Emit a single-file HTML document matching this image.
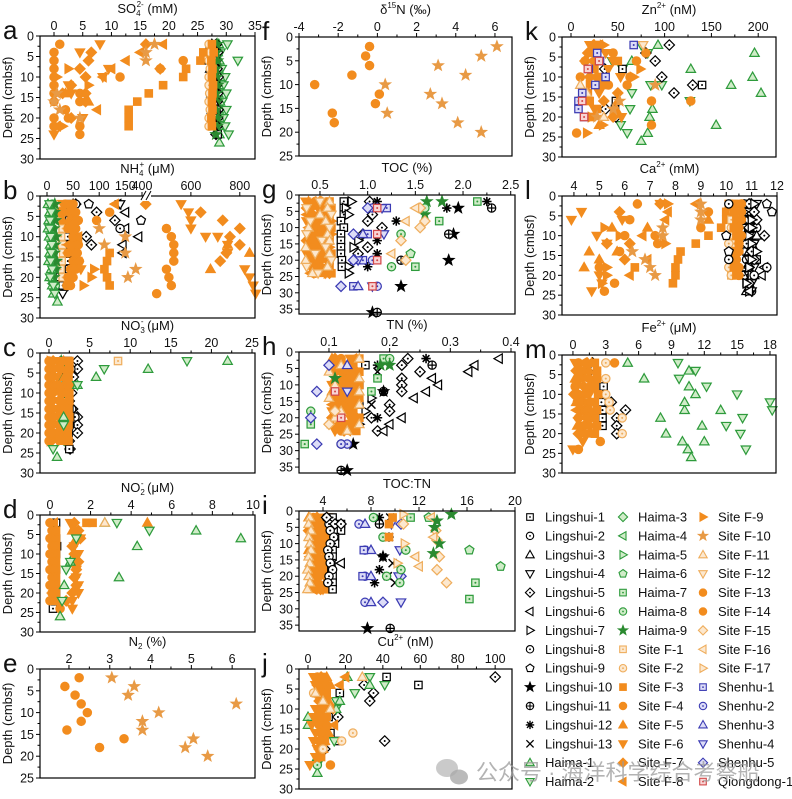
<!DOCTYPE html>
<html><head><meta charset="utf-8">
<style>
html,body{margin:0;padding:0;background:#fff;}
svg{display:block;font-family:"Liberation Sans","Noto Sans CJK SC",sans-serif;}
</style></head>
<body>
<svg id="fig" width="792" height="799" viewBox="0 0 792 799" xmlns="http://www.w3.org/2000/svg"></svg>
<script>
// ===================== DATA =====================
// number at index i => depth 2*(i+1); [value, depth] pair => explicit
// Panel a: SO4 (mM)
const a_F4=[1,0,0,0,0,0,0,0,2,2.5,4.5,4.5,[22.5,6],[18.5,8],[11.5,10],[4.5,14],[4.5,16],[0,20],[0,22]];
const a_F6=[8,4.5,null,9.5,8.5,2.5,3,null,null,5,null,0];
const a_F7=[16,6.5,6,4.5,5.5,3,5.5,5.5,null,3,[18.5,8],[1.5,14]];
const a_F8=[[19,2],[15,4],[12.5,6],[10,8],[7.5,18],[8.5,10],[0.5,22]];
const a_F3=[[26,4],[25.5,6],[23,8],[22.5,10],[19,12],[16.5,14],[14.5,16],[13,18],[13,20],[13,22]];
const a_F10=[[17.5,2],[16,4],[16,6],[4.5,20],[0,16],[0.5,14],[1,18]];
const a_F9=[[2.5,8],[0.5,10],[1.5,22],[6,12]];
const a_F5=[[2,14],[6,16]];
const a_L1=[28,28,28.2,28,28,28.2,28,28,28.3,28,28,28.5];
const a_L3=[27.5,26.5,27,27.2,27.6,27.5,27.4,27.8,27.5,27.5,27.6];
const a_L5=[28.3,28.5,28.2,28.4,28.6,28.3,28.5,28.4,28.6,28.5,28.4,28.2];
const a_F2=[27,27.2,27,27.2,27,27,27.1,27,27.2,27,27];
const a_F3b=[27.5,27.8,27.4,27.6,27.5,27.7,27.6,27.5,27.6,27.4,27.5];
const a_H1=[28.7,28.5,28.8,28.6,28.9,28.7,28.6,28.9,28.7,28.8,28.6,28.8,28.8];
const a_H2=[30.2,29,32,29.2,29.8,29.5,30,29.3,30,29.5,29.8,30.4];
const a_H9=[28.4,28.3,28.5,28.2,28.4,28.5,28.3,28.4,28.3,28.5,28.4,28.2];
// Panel b: NH4 (uM)
const b_H1=[2,5,3,2,4,6,5,3,8,5,10,12,20];
const b_H2=[5,8,6,5,7,9,8,7,10,6,12,15];
const b_H8=[10,12,9,11,13,10,12,14,15,11,16];
const b_H9=[15,14,16,13,17,15,14,18,16,13,12];
const b_F1=[25,28,26,30,27,29,31,28,26,30];
const b_L1=[40,38,42,36,40,44,38,40,42,35,30];
const b_L2=[55,48,52,50,56,48,52,55,50,46];
const b_L5=[[95,4],[130,6],[75,10],[85,12],[60,16],[55,2],[45,12]];
const b_L6=[[150,8],[175,10],[145,12],[145,14],[150,4],[135,2]];
const b_L4=[[140,2],[55,10],[50,6],[40,22],[30,24]];
const b_L9=[[180,6],[80,2]];
const b_L8=[[140,8],[40,4]];
const b_L3=[[50,2],[20,20],[15,22]];
const b_L7=[[30,10],[35,16],[45,20]];
const b_F4=[35,30,45,40,50,45,40,50,45,40,38,[95,6],[500,8],[520,10],[530,12],[530,14],[530,16],[500,18],[510,20],[520,22],[460,24],[120,4]];
const b_F3=[40,45,50,45,55,50,55,60,50,45,40,[120,14],[115,16],[110,18],[115,20],[120,22]];
const b_F13=[50,55,60,55,50,60,58,62,55,50,45];
const b_F6=[[560,2],[590,4],[600,6],[600,8],[660,10],[710,10],[750,12],[750,14],[820,18],[840,20],[855,22],[865,24],[30,2],[45,8],[65,18]];
const b_F7=[[415,2],[640,4],[730,6],[800,8],[760,10],[800,12],[745,14],[720,16],[25,4],[60,16],[55,6]];
const b_F5=[[840,14],[680,18],[750,12],[30,6]];
const b_F8=[[130,2],[60,10],[40,12]];
const b_F10=[[150,10],[150,14],[170,18],[155,20],[100,8],[110,12]];
const b_F9=[[90,18],[70,22],[85,20]];
// Panel c: NO3 (uM)
const c_L5=[3.5,3.5,3,2.5,2.8,2.5,2.9,3.5,3.5,3.5,2.5,2.6];
const c_L2=[1.5,2.7,2.2,2.4,2.4,2.5,2.8,3.2,2.6,2.2,2.4,2.5];
const c_L1=[2.3,2.5,2.1,2.2,2.3,2.2,2.5,2.6,2.5,2.4,2.3,2.5];
const c_H9=[1.5,1.6,1.5,1.7,1.6,1.5,1.6,1.5,1.6,1.6,1.5];
const c_F4=[0,0,0,0,0,0,0,0,0,0,0];
const c_F3=[2.5,2.5,2.4,2.5,2.5,2.5,2.4,2.5,2.4,2.3,2.4];
const c_F6=[1,1.2,1,0.8,1.3,1.1,1,1.2,1,0.9,1.1];
const c_F7=[0.5,0.6,0.4,0.6,0.5,0.4,0.5,0.6,0.4,0.5,0.3];
const c_F5=[1.8,1.7,1.9,1.8,2,1.7,1.8,1.9,1.7,1.6,1.8];
const c_F9=[0.2,1.5,0.3,1.4,0.2,1.5,0.3,1.4,0.2,1.3,0.2];
const c_H1=[[22,2],[12.2,4],[5.8,6],[3.5,8],[1,26],[1.8,16]];
const c_H2=[[17,2],[6.8,4],[0.5,24],[1.8,18],[3.5,8]];
const c_F1=[[8.5,2]];
// Panel d: NO2 (uM)
const d_L1=[0.3,0.25,0.3,0.35,0.3,0.25,0.3,0.2,0.25,0.3,0.2,0.15];
const d_F4=[0,0.1,0,0.1,0,0.1,0,0.1,0,0.1,0,0.5];
const d_F3=[1.8,0.3,0.3,0.3,0.3,0.3,0.3,0.3,0.3,0.3,0.3,[2.1,2]];
const d_F6=[1,1.3,1.5,1.2,1.4,1.2,1.3,1.3,1.4,1.4,1.1,1.1];
const d_F7=[1.2,1.4,1.5,1.1,1.2,1.4,1.3,1.2,1.3,1.1,0.8];
const d_F5=[[4.8,2],[1.1,4],[1.3,6]];
const d_F8=[0.2,0.2,0.3,0.2,0.3,0.2,0.1,0.2,0.2,0.1,0.2];
const d_H1=[[2.7,2],[7.2,4],[9.4,6],[4.3,8],[3.4,16],[0.7,18],[0.5,26],[1,12]];
const d_H2=[[3.3,2],[4.9,4],[1,12],[0.6,22],[0.8,14],[1.3,6]];
const d_F11=[[2.7,2]];
// Panel e: N2 (%)
const e_F4=[[2.25,2],[1.9,4],[2.15,6],[2.3,8],[2.45,10],[2.3,12],[1.95,14],[3.35,16],[2.75,18]];
const e_F10=[[3.05,2],[3.6,4],[3.45,6],[6.1,8],[4.2,10],[3.8,12],[3.8,14],[5.05,16],[4.85,18],[5.4,20]];
// Panel f: d15N
const f_F4=[[-0.4,2],[-0.6,4],[-0.4,6],[-1.3,8],[-3.2,10],[0.1,12],[-0.1,14],[-2.3,16],[-2.2,18]];
const f_F10=[[6.1,2],[5.3,4],[3.1,6],[4.5,8],[0.4,10],[2.7,12],[3.3,14],[0.5,16],[4.1,18],[5.3,20]];
// Panel g: TOC (%)
const g_F3=[0.6,0.62,0.6,0.58,0.62,0.6,0.6,0.58,0.62,0.6,0.6,0.62];
const g_F4=[0.45,0.5,0.4,0.48,0.5,0.45,0.42,0.5,0.48,0.44,0.5,0.45];
const g_F5=[0.38,0.55,0.48,0.52,0.4,0.55,0.5,0.38,0.55,0.4,0.52,0.5];
const g_F6=[0.35,0.42,0.55,0.36,0.45,0.38,0.56,0.45,0.36,0.52,0.4,0.56];
const g_F7=[0.5,0.36,0.52,0.42,0.56,0.5,0.36,0.54,0.42,0.58,0.46,0.6];
const g_F8=[0.42,0.48,0.36,0.55,0.38,0.42,0.48,0.4,0.5,0.38,0.56,0.4];
const g_F9=[0.55,0.4,0.45,0.62,0.52,0.62,0.45,0.6,0.4,0.48,0.44,0.58];
const g_F11=[0.6,0.58,0.5,0.56,0.38,0.58,0.6,0.35,0.6,0.35,0.58,0.42];
const g_F12=[0.5,0.36,0.62,0.4,0.6,0.36,0.52,0.56,0.45,0.62,0.36,0.48];
const g_L1=[[0.75,2],[0.75,4],[0.75,6],[0.72,8],[0.75,10],[0.72,12],[0.72,14],[0.72,16],[0.72,18],[0.73,20],[0.73,22]];
const g_L7=[[0.83,2],[0.77,4],[0.8,6],[0.8,22],[0.8,24],[0.9,14],[0.85,16]];
const g_L5=[[1.02,2],[1.0,8],[0.95,12],[1.0,16],[1.15,10],[1.05,6],[0.9,18]];
const g_L10=[[1.95,4],[1.9,12],[1.85,20],[1.35,28],[1.05,36]];
const g_L11=[[2.3,4],[1.85,12],[1.35,20],[1.1,36]];
const g_L12=[[2.25,2],[1.83,4],[1.3,8],[1.1,14],[1.1,18],[1.0,22],[1.1,2]];
const g_H7=[[2.15,2],[1.75,8],[1.5,22]];
const g_H9=[[1.78,2],[1.6,6],[1.62,2]];
const g_H8=[[1.25,22],[1.35,12],[1.6,4]];
const g_H6=[[1.45,18]];
const g_F15=[[1.55,4],[1.55,10],[1.4,20],[1.35,14],[1.6,8]];
const g_F16=[[1.5,4],[1.4,8],[1.25,18]];
const g_S1=[[0.85,28],[0.95,20],[1.0,12],[1.2,4]];
const g_S2=[[1.05,20],[1.1,28],[1.05,4]];
const g_S3=[[0.9,28],[0.87,20],[0.95,12],[1.1,4]];
const g_S4=[[1.17,12],[1.15,4],[0.9,20],[1.05,28]];
const g_S5=[[0.72,28],[0.85,20],[0.85,12],[1.0,4]];
const g_Q1=[[1.1,4],[1.1,12],[1.1,20],[1.05,28]];
// Panel h: TN (%)
const h_F3=[0.15,0.14,0.15,0.145,0.15,0.14,0.15,0.145,0.14,0.15,0.14,0.145];
const h_F4=[0.12,0.13,0.11,0.125,0.13,0.12,0.11,0.13,0.125,0.12,0.13,0.12];
const h_F5=[0.105,0.14,0.13,0.11,0.14,0.105,0.135,0.11,0.14,0.12,0.105,0.135];
const h_F6=[0.135,0.11,0.14,0.135,0.105,0.13,0.14,0.12,0.105,0.135,0.12,0.11];
const h_F7=[0.11,0.125,0.12,0.14,0.115,0.145,0.12,0.14,0.13,0.105,0.145,0.125];
const h_F8=[0.14,0.105,0.125,0.12,0.12,0.11,0.125,0.105,0.115,0.14,0.115,0.13];
const h_F11=[0.15,0.12,0.1,0.15,0.11,0.15,0.1,0.15,0.12,0.11,0.15,0.13];
const h_L5=[[0.23,2],[0.22,4],[0.25,6],[0.22,8],[0.22,10],[0.22,12],[0.2,16],[0.2,18],[0.17,20],[0.18,24]];
const h_L6=[[0.38,2],[0.34,4],[0.33,6],[0.27,8],[0.28,10],[0.26,12],[0.24,14],[0.22,20],[0.2,22],[0.19,24]];
const h_L7=[[0.17,14],[0.16,18],[0.15,22],[0.15,20]];
const h_L11=[[0.27,4],[0.19,12],[0.12,28],[0.12,36]];
const h_L10=[[0.19,12],[0.14,28],[0.13,36]];
const h_L12=[[0.26,2],[0.18,4],[0.18,20]];
const h_L13=[[0.18,6],[0.17,16]];
const h_L1=[[0.15,16],[0.16,4],[0.15,10]];
const h_H7=[[0.19,2],[0.18,8],[0.17,12],[0.06,28],[0.07,22]];
const h_H8=[[0.2,2],[0.07,18]];
const h_H9=[[0.2,4],[0.185,4],[0.11,8]];
const h_S5=[[0.1,4],[0.08,12],[0.07,20],[0.08,28]];
const h_S2=[[0.13,28],[0.12,28]];
const h_S4=[[0.13,12]];
const h_S3=[[0.13,4]];
const h_Q1=[[0.11,12],[0.12,20]];
const h_F15=[[0.1,22],[0.11,18]];
// Panel i: TOC:TN
const i_F3=[4.5,4.4,4.5,4.3,4.5,4.4,4.5,4.4,4.3,4.4,4.5,4.4];
const i_F4=[3.2,3.5,3,3.4,3.6,3.2,3.5,3.3,3.6,3.1,3.4,3.5];
const i_F5=[2.8,3.8,3.4,2.9,3.9,2.8,3.7,3,3.9,2.9,3.7,3];
const i_F6=[3.9,3,4.1,3.7,3.1,4,3.2,4.1,3.2,3.8,3.1,4];
const i_F7=[3.5,4.2,2.8,4.1,3.2,3.7,4.2,3.6,2.9,4.2,3.3,3.8];
const i_F8=[4.1,3.3,3.7,3.2,4.2,3.4,2.9,3.8,4.1,3.4,4.2,3.2];
const i_F11=[2.9,2.8,3,2.8,2.9,3,2.8,2.9,2.7,2.8,2.9,2.7];
const i_L1=[4.8,5.5,5.5,5,5,4.8,4.8,4.7,4.7,4.8,4.8,4.8];
const i_L2=[4.3,4.5,4.6,4.9,4.6,4.4,4.5,4.6,4.8,4.5,4.4];
const i_L5=[[4.3,2],[5,4],[5.5,4]];
const i_L6=[[5.5,16]];
const i_L12=[[8.7,2],[8.7,18],[8.3,22],[9,14],[9.5,8]];
const i_L13=[[9.6,2],[9.5,8],[9.8,16],[10,22],[9.4,20]];
const i_L11=[[8.7,4],[9.6,36]];
const i_L10=[[7.7,36],[9,14]];
const i_S2=[[7,4],[7.5,12],[7.5,20],[7.5,28]];
const i_S3=[[7.5,4],[8,12],[8,20],[8,28]];
const i_S5=[[10.5,4],[10.5,20],[9,28]];
const i_S4=[[9.7,4],[10.4,12],[10.5,28],[10.3,20]];
const i_S1=[[7.4,12],[7.3,20]];
const i_H8=[[8.2,2],[9,8],[10.9,12],[10.5,18],[10.4,22],[9.3,20]];
const i_H6=[[12.8,2],[16.2,12],[18.8,17]];
const i_H7=[[11.3,2],[16.7,22],[16.2,27]];
const i_H9=[[14.7,1],[13.5,3],[13.3,5],[13.2,13],[13.7,10]];
const i_F17=[[10.7,1],[10.8,10],[10.2,16]];
const i_F15=[[13.4,6],[13.7,14],[13.5,18],[14.3,22],[10.7,4],[13.5,9]];
const i_F16=[[11.7,14],[12,17],[13,2],[13.2,8]];
const i_F3b=[[9.5,4],[9.5,8],[9.8,2]];
// Panel j: Cu (nM)
const j_L1=[[42,2],[59,4],[17,6],[11,10],[11,12],[12,16],[16,18]];
const j_L5=[[100,2],[30,4],[35,6],[33,8],[16,12],[41,18],[9,20]];
const j_H2=[[33,2],[41,4],[25,6],[15,8],[15,10],[14,18],[5,24]];
const j_H1=[[21,2],[33,4],[17,8],[15,10],[0,12],[0,14],[5,22],[5,26]];
const j_H8=[[5,24]];
const j_F4=[5,6,5,7,6,5,6,7,6,6,5,12];
const j_F3=[8,9,10,8,9,10,9,8,9,8,7];
const j_F6=[3,4,9,10,4,3,2,4,3,5,4,1];
const j_F7=[7,5,4,6,8,9,10,9,7,6,6];
const j_F5=[10,12,8,11,12,7,10,11,9,8];
const j_F8=[[17,4],[20,2],[12,10],[14,14]];
const j_F2=[[3,6],[24,16],[18,18],[8,20]];
const j_F11=[[4,6],[8,8],[12,10],[29,2]];
// Panel k: Zn (nM)
const k_H1=[[93,2],[196,4],[65,6],[128,8],[194,10],[171,12],[203,14],[87,18],[84,20],[155,22],[82,24],[75,26],[50,16],[13,14]];
const k_H2=[[75,2],[82,4],[44,6],[55,8],[97,12],[65,14],[127,16],[63,18],[53,22],[60,24],[48,20],[85,12]];
const k_L5=[[105,2],[80,4],[90,6],[97,10],[110,14],[36,8],[130,12],[37,18],[48,20]];
const k_L1=[[140,12],[55,8],[48,16],[47,18]];
const k_S1=[[67,2],[28,4],[31,6],[19,8],[37,10],[26,12],[12,14],[8,16],[8,18],[14,20]];
const k_Q1=[[30,6],[18,8],[12,16],[14,20]];
const k_F3=[30,25,50,25,30,35,18,20,28,22];
const k_F4=[[45,4],[26,6],[10,10],[6,24],[86,22],[86,16],[128,16],[60,12],[80,4],[63,10],[70,6],[15,6],[40,12]];
const k_F6=[[20,2],[37,4],[45,6],[40,8],[53,10],[30,14],[25,18],[54,20]];
const k_F7=[[24,2],[18,4],[15,6],[20,10],[35,16],[50,14],[45,20]];
const k_F5=[[25,2],[50,16],[48,18],[30,22]];
const k_F9=[[67,10],[74,8],[34,22],[17,24],[20,12],[35,2],[22,20]];
const k_F10=[[90,12],[52,16],[28,20],[45,18]];
const k_F8=[[30,2],[22,6],[25,10],[28,12]];
const k_F11=[[10,12],[35,20],[17,14]];
const k_F12=[[77,2]];
// Panel l: Ca (mM)
const l_F4=[[6.5,2],[9,8],[6,10],[5.8,14],[5,18],[5.2,24],[5.6,22],[6.2,6],[9.3,4],[7.3,12],[7.2,10]];
const l_F6=[[4.3,4],[3.9,6],[4.9,10],[5.3,12],[5,20],[4.7,24],[5.1,22],[7.4,2],[5.9,6]];
const l_F5=[[4.6,14],[4.4,18],[5,16],[5.7,14],[6.9,8],[9.3,6],[5.5,8]];
const l_F7=[[7.4,2],[5.3,12],[6.2,12],[6,16],[5.8,4]];
const l_F8=[[8.8,2],[7.7,4],[7.6,6],[6.7,10],[6.2,20],[6.9,16]];
const l_F9=[[7.7,2],[5.2,8],[5.8,10],[7.6,12],[5.3,20],[5.3,18],[5.1,22]];
const l_F3=[[10.1,2],[10,4],[10,6],[9.8,8],[9.3,10],[8.8,12],[8.2,14],[8.1,16],[8,18],[8,20],[7.9,22],[6.4,18]];
const l_F10=[[9,2],[9,4],[9,6],[7.5,8],[7.5,10],[6.3,14],[6.8,16],[7,18],[7.2,20]];
const l_L1=[10.9,11.0,10.8,11.1,11.0,10.9,10.8,11.2,11.0,10.9,10.8,10.9];
const l_L2=[10.7,11.0,10.9,11.2,10.8,10.7,11.1,10.8,11.0,10.7,10.9,11.0];
const l_L3=[11.0,10.8,11.1,10.9,11.2,11.0,10.9,11.0,10.8,11.1,10.9,10.8];
const l_L4=[11.2,10.9,11.0,10.8,10.9,11.1,11.0,10.9,11.1,10.9,11.0,11.0];
const l_L5=[10.9,11.1,11.2,10.9,11.5,10.8,11.0,11.1,10.9,11.0,10.9];
const l_L7=[11.1,10.7,11.0,11.0,10.9,11.0,11.2,11.0,10.9,11.0,10.8,10.9];
const l_F13=[10.6,10.6,10.6,10.5,10.6,10.5,10.5,10.4,10.5,10.5];
const l_F3b=[10.4,10.3,10.4,10.3,10.4,10.5,10.4,10.3,10.3,10.4];
const l_F2=[10.2,10.3,10.5,10.2,10.3,10.1,10.2,10.4,10.1,10.2];
const l_F1=[10.3,10.4,10.2,10.4,10.2,10.3,10.4,10.2,10.3,10.2];
const l_L9=[[11.6,2],[11.8,4],[10.0,10],[10.1,14]];
const l_L6=[[11.5,18],[11.4,20],[10.9,24]];
const l_L8=[[11.6,18],[11.1,20],[10.1,2],[10.1,16]];
// Panel m: Fe (uM)
const m_H1=[[5,2],[6.5,6],[8,16],[8.5,20],[10.2,14],[10,22],[10.5,24],[10.8,26],[12,22],[13.5,14],[11.8,18],[10.6,4],[10.6,8],[10.2,12],[11.2,10]];
const m_H2=[[9.6,2],[11.2,4],[9.7,6],[12.2,8],[15,10],[18,12],[18.2,14],[15.5,16],[14,18],[15.3,20],[15.8,24]];
const m_L5=[[1.8,2],[1.8,4],[1.8,6],[3.5,12],[4.8,14],[4,16],[4,18],[4,20]];
const m_L1=[[2.8,8],[2.5,10],[2.6,12],[2.7,14],[2.7,16],[2.7,18]];
const m_F2=[[3,2],[3,6],[3,10],[3.3,12],[3.4,14],[4.5,16],[4.5,20]];
const m_F4=[0.5,1,0.5,0.2,0.5,0.4,0.8,0.5,1,0.6,null,[2.5,22],[0.5,24],[3.8,2]];
const m_F3=[2,2.2,2.2,2,2.3,2,2.2,2,2.2,2,[1.8,12]];
const m_F6=[0.2,1.1,0.9,0.4,1.5,1.1,0.8,1.3,0.8,1.2,0.9,0];
const m_F7=[1.3,0.3,1.5,1,0.1,1.5,1.2,0.5,1.5,0.5];
const m_F5=[1.7,1.5,0.2,1.8,1.2,0.3,1.6,1.4,0.4,1.7];
const m_F8=[0.9,0.5,1.2,1.3,0.8,0.6,0.3,1.1,1.3,0.9];

// Legend entries
const legendKeys=['L1','L2','L3','L4','L5','L6','L7','L8','L9','L10','L11','L12','L13','H1','H2',
 'H3','H4','H5','H6','H7','H8','H9','F1','F2','F3','F4','F5','F6','F7','F8',
 'F9','F10','F11','F12','F13','F14','F15','F16','F17','S1','S2','S3','S4','S5','Q1'];
const legendLabels=['Lingshui-1','Lingshui-2','Lingshui-3','Lingshui-4','Lingshui-5','Lingshui-6','Lingshui-7','Lingshui-8','Lingshui-9','Lingshui-10','Lingshui-11','Lingshui-12','Lingshui-13','Haima-1','Haima-2',
 'Haima-3','Haima-4','Haima-5','Haima-6','Haima-7','Haima-8','Haima-9','Site F-1','Site F-2','Site F-3','Site F-4','Site F-5','Site F-6','Site F-7','Site F-8',
 'Site F-9','Site F-10','Site F-11','Site F-12','Site F-13','Site F-14','Site F-15','Site F-16','Site F-17','Shenhu-1','Shenhu-2','Shenhu-3','Shenhu-4','Shenhu-5','Qiongdong-1'];

// ===================== STYLES =====================
const O='#F28C1E',LO='#EFAE5E',LOF='#FCE8CF',G='#2E9B3C',GF='#D0ECC8',B='#3B3BB3',BF='#DCDCF7',R='#D24848',RF='#F8D5D5',K='#000',W='#fff';
const ST={L1:['sq',K,W,1],L2:['circ',K,W,1],L3:['tri',K,W,0],L4:['tridown',K,W,0],L5:['diam',K,W,1],L6:['triL',K,W,0],L7:['triR',K,W,0],L8:['circ',K,W,1],L9:['pent',K,W,0],L10:['star',K,K,0],L11:['cplus',K,W,0],L12:['ast',K,K,0],L13:['x',K,K,0],
H1:['tri',G,GF,0],H2:['tridown',G,GF,0],H3:['diam',G,GF,0],H4:['triL',G,GF,0],H5:['triR',G,GF,0],H6:['pent',G,GF,0],H7:['sq',G,GF,1],H8:['circ',G,GF,1],H9:['star','#2a8a30','#2a8a30',0],
F1:['sq',LO,LOF,1],F2:['circ',LO,LOF,1],F3:['sq',O,O,0],F4:['circ',O,O,0],F5:['tri',O,O,0],F6:['tridown',O,O,0],F7:['diam',O,O,0],F8:['triL',O,O,0],F9:['triR',O,O,0],F10:['star','#E89A45','#E89A45',0],F11:['tri',LO,LOF,0],F12:['tridown',LO,LOF,0],F13:['circ',O,O,0],F14:['circ',O,O,0],F15:['diam',LO,LOF,0],F16:['triL',LO,LOF,0],F17:['triR',LO,LOF,0],
S1:['sq',B,BF,1],S2:['circ',B,BF,1],S3:['tri',B,BF,0],S4:['tridown',B,BF,0],S5:['diam',B,BF,0],Q1:['sq',R,RF,1]};

const NS='http://www.w3.org/2000/svg';
const svg=document.getElementById('fig');
function el(tag,parent){const e=document.createElementNS(NS,tag);parent.appendChild(e);return e;}
function setA(e,o){for(const k in o)e.setAttribute(k,o[k]);}

function marker(parent,type,cx,cy,stroke,fill,dot,sc){
  const g=el('g',parent);
  setA(g,{stroke:stroke,fill:fill,'stroke-width':1.1});
  if(sc&&sc!==1)g.setAttribute('transform',`translate(${cx},${cy}) scale(${sc}) translate(${-cx},${-cy})`);
  let s;
  const P=pts=>{s=el('polygon',g);s.setAttribute('points',pts.map(p=>(cx+p[0]).toFixed(1)+','+(cy+p[1]).toFixed(1)).join(' '));};
  if(type==='sq'){s=el('rect',g);setA(s,{x:cx-3.3,y:cy-3.3,width:6.6,height:6.6});}
  else if(type==='circ'||type==='cplus'){s=el('circle',g);setA(s,{cx:cx,cy:cy,r:3.7});
    if(type==='cplus'){const l1=el('path',g);l1.setAttribute('d',`M${cx-3.7},${cy}H${cx+3.7}M${cx},${cy-3.7}V${cy+3.7}`);}}
  else if(type==='tri')P([[0,-4.4],[4.2,3],[-4.2,3]]);
  else if(type==='tridown')P([[0,4.4],[4.2,-3],[-4.2,-3]]);
  else if(type==='triL')P([[-4.4,0],[3,-4.2],[3,4.2]]);
  else if(type==='triR')P([[4.4,0],[-3,-4.2],[-3,4.2]]);
  else if(type==='diam')P([[0,-4.6],[4.6,0],[0,4.6],[-4.6,0]]);
  else if(type==='pent'){const a=[];for(let k=0;k<5;k++){const t=-Math.PI/2+k*2*Math.PI/5;a.push([4.2*Math.cos(t),4.2*Math.sin(t)]);}P(a);}
  else if(type==='star'){const a=[];for(let k=0;k<10;k++){const t=-Math.PI/2+k*Math.PI/5,rr=k%2?2:4.8;a.push([rr*Math.cos(t),rr*Math.sin(t)]);}P(a);}
  else if(type==='ast'){const p=el('path',g);p.setAttribute('d',`M${cx-4.2},${cy}H${cx+4.2}M${cx},${cy-4.2}V${cy+4.2}M${cx-3},${cy-3}L${cx+3},${cy+3}M${cx-3},${cy+3}L${cx+3},${cy-3}`);p.setAttribute('stroke-width',1.4);}
  else if(type==='x'){const p=el('path',g);p.setAttribute('d',`M${cx-3.6},${cy-3.6}L${cx+3.6},${cy+3.6}M${cx-3.6},${cy+3.6}L${cx+3.6},${cy-3.6}`);p.setAttribute('stroke-width',1.3);}
  if(dot){const d=el('circle',g);setA(d,{cx:cx,cy:cy,r:0.9,fill:stroke,stroke:'none'});}
  return g;
}
function text(parent,x,y,str,size,anchor){const t=el('text',parent);setA(t,{x:x,y:y,'font-size':size,'text-anchor':anchor||'middle',fill:'#111'});t.textContent=str;return t;}

// ===================== PANELS (layout) =====================
const bScale=v=> v<=300 ? 47+v*0.522 : 142+(v-400)*0.2445;
const panels=[
 {id:'a',x0:40,x1:255,y0:36,y1:159,xmin:-2.44,xmax:35,ymax:30,xt:[0,5,10,15,20,25,30,35],yt:[0,5,10,15,20,25,30],title:['SO','4','2-',' (mM)'],
  series:[['H2',a_H2],['H1',a_H1],['L5',a_L5],['L1',a_L1],['H9',a_H9],['L3',a_L3],['F2',a_F2],['F3',a_F3b],['F4',a_F4],['F6',a_F6],['F7',a_F7],['F8',a_F8],['F3',a_F3],['F10',a_F10],['F9',a_F9],['F5',a_F5]]},
 {id:'b',x0:40,x1:255,y0:196,y1:318,xscale:bScale,ymax:30,xt:[0,50,100,150,400,600,800],yt:[0,5,10,15,20,25,30],title:['NH','4','+',' (μM)'],
  series:[['L5',b_L5],['L6',b_L6],['L4',b_L4],['L9',b_L9],['L8',b_L8],['L3',b_L3],['L7',b_L7],['L1',b_L1],['L2',b_L2],['F1',b_F1],['F4',b_F4],['F3',b_F3],['F13',b_F13],['F6',b_F6],['F7',b_F7],['F5',b_F5],['F8',b_F8],['F10',b_F10],['F9',b_F9],['H8',b_H8],['H9',b_H9],['H1',b_H1],['H2',b_H2]]},
 {id:'c',x0:40,x1:255,y0:353,y1:473,xmin:-1.11,xmax:25.37,ymax:30,xt:[0,5,10,15,20,25],yt:[0,5,10,15,20,25,30],title:['NO','3','-',' (μM)'],
  series:[['L5',c_L5],['L2',c_L2],['L1',c_L1],['H9',c_H9],['F4',c_F4],['F3',c_F3],['F6',c_F6],['F7',c_F7],['F5',c_F5],['F9',c_F9],['H1',c_H1],['H2',c_H2],['F1',c_F1]]},
 {id:'d',x0:40,x1:255,y0:515,y1:632,xmin:-0.49,xmax:10.1,ymax:30,xt:[0,2,4,6,8,10],yt:[0,5,10,15,20,25,30],title:['NO','2','-',' (μM)'],
  series:[['L1',d_L1],['F4',d_F4],['F3',d_F3],['F6',d_F6],['F7',d_F7],['F5',d_F5],['F8',d_F8],['H1',d_H1],['H2',d_H2],['F11',d_F11]]},
 {id:'e',x0:40,x1:255,y0:669,y1:778,xmin:1.29,xmax:6.56,ymax:25,xt:[2,3,4,5,6],yt:[0,5,10,15,20,25],title:['N','2','',' (%)'],
  series:[['F4',e_F4],['F10',e_F10]]},
 {id:'f',x0:299,x1:512,y0:37,y1:156,xmin:-4,xmax:6.87,ymax:25,xt:[-4,-2,0,2,4,6],yt:[0,5,10,15,20,25],title:['δ','','15','N (‰)'],
  series:[['F4',f_F4],['F10',f_F10]]},
 {id:'g',x0:299,x1:515,y0:195,y1:314,xmin:0.28,xmax:2.545,ymax:36.5,xt:[0.5,1,1.5,2,2.5],dec:1,yt:[0,5,10,15,20,25,30,35],title:['TOC (%)','','',''],
  series:[['F3',g_F3],['F4',g_F4],['F5',g_F5],['F6',g_F6],['F7',g_F7],['F8',g_F8],['F9',g_F9],['F11',g_F11],['F12',g_F12],['L1',g_L1],['L7',g_L7],['L5',g_L5],['L10',g_L10],['L11',g_L11],['L12',g_L12],['H7',g_H7],['H9',g_H9],['H8',g_H8],['H6',g_H6],['F15',g_F15],['F16',g_F16],['S1',g_S1],['S2',g_S2],['S3',g_S3],['S4',g_S4],['S5',g_S5],['Q1',g_Q1]]},
 {id:'h',x0:299,x1:515,y0:352,y1:473,xmin:0.0506,xmax:0.4066,ymax:36.8,xt:[0.1,0.2,0.3,0.4],dec:1,yt:[0,5,10,15,20,25,30,35],title:['TN (%)','','',''],
  series:[['L5',h_L5],['L6',h_L6],['L7',h_L7],['L11',h_L11],['L10',h_L10],['L12',h_L12],['L13',h_L13],['L1',h_L1],['F3',h_F3],['F4',h_F4],['F5',h_F5],['F6',h_F6],['F7',h_F7],['F8',h_F8],['F11',h_F11],['H7',h_H7],['H8',h_H8],['H9',h_H9],['S5',h_S5],['S2',h_S2],['S4',h_S4],['S3',h_S3],['Q1',h_Q1],['F15',h_F15]]},
 {id:'i',x0:299,x1:515,y0:511,y1:631,xmin:2,xmax:20,ymax:36.8,xt:[4,8,12,16,20],yt:[0,5,10,15,20,25,30,35],title:['TOC:TN','','',''],
  series:[['F3',i_F3],['F4',i_F4],['F5',i_F5],['F6',i_F6],['F7',i_F7],['F8',i_F8],['F11',i_F11],['L1',i_L1],['L2',i_L2],['L5',i_L5],['L6',i_L6],['L12',i_L12],['L13',i_L13],['L11',i_L11],['L10',i_L10],['S2',i_S2],['S3',i_S3],['S5',i_S5],['S4',i_S4],['S1',i_S1],['H8',i_H8],['H6',i_H6],['H7',i_H7],['F17',i_F17],['F15',i_F15],['F16',i_F16],['F3',i_F3b],['H9',i_H9]]},
 {id:'j',x0:299,x1:512,y0:669,y1:789,xmin:-4.8,xmax:109,ymax:30,xt:[0,20,40,60,80,100],yt:[0,5,10,15,20,25,30],title:['Cu','','2+',' (nM)'],
  series:[['L1',j_L1],['L5',j_L5],['H2',j_H2],['H1',j_H1],['H8',j_H8],['F4',j_F4],['F3',j_F3],['F6',j_F6],['F7',j_F7],['F5',j_F5],['F8',j_F8],['F2',j_F2],['F11',j_F11]]},
 {id:'k',x0:562,x1:776,y0:37,y1:157,xmin:-9.6,xmax:219,ymax:30,xt:[0,50,100,150,200],yt:[0,5,10,15,20,25,30],title:['Zn','','2+',' (nM)'],
  series:[['H1',k_H1],['H2',k_H2],['L5',k_L5],['L1',k_L1],['F3',k_F3],['F4',k_F4],['F6',k_F6],['F7',k_F7],['F5',k_F5],['F9',k_F9],['F10',k_F10],['F8',k_F8],['F11',k_F11],['F12',k_F12],['S1',k_S1],['Q1',k_Q1]]},
 {id:'l',x0:562,x1:777,y0:196,y1:315,xmin:3.53,xmax:12,ymax:30,xt:[4,5,6,7,8,9,10,11,12],yt:[0,5,10,15,20,25,30],title:['Ca','','2+',' (mM)'],
  series:[['F4',l_F4],['F6',l_F6],['F5',l_F5],['F7',l_F7],['F8',l_F8],['F9',l_F9],['F3',l_F3],['F10',l_F10],['L1',l_L1],['L2',l_L2],['L3',l_L3],['L4',l_L4],['L5',l_L5],['L7',l_L7],['F1',l_F1],['F2',l_F2],['F3',l_F3b],['F13',l_F13],['L9',l_L9],['L6',l_L6],['L8',l_L8]]},
 {id:'m',x0:562,x1:776,y0:355,y1:473,xmin:-1.0,xmax:18.55,ymax:30,xt:[0,3,6,9,12,15,18],yt:[0,5,10,15,20,25,30],title:['Fe','','2+',' (μM)'],
  series:[['H1',m_H1],['H2',m_H2],['L5',m_L5],['L1',m_L1],['F2',m_F2],['F4',m_F4],['F3',m_F3],['F6',m_F6],['F7',m_F7],['F5',m_F5],['F8',m_F8]]}
];

panels.forEach(p=>{
  const g=el('g',svg);
  
  
  const xs=p.xscale?p.xscale:(v=>p.x0+(v-p.xmin)/(p.xmax-p.xmin)*(p.x1-p.x0));
  const ys=d=>p.y0+d/p.ymax*(p.y1-p.y0);
  const lt=text(g,p.x0-37,p.y0+3,p.id,26,'start');
  
  
  const tt=el('text',g);
  setA(tt,{x:(p.x0+p.x1)/2,y:p.y0-23,'font-size':13,'text-anchor':'middle',fill:'#111'});
  
  
  const [t0,sub,sup,t1]=p.title;
  const s0=el('tspan',tt);s0.textContent=t0;
  if(sub){const s=el('tspan',tt);setA(s,{'font-size':8,dy:3});s.textContent=sub;}
  if(sup){const s=el('tspan',tt);setA(s,{'font-size':8,dy:sub?-9:-6,dx:sub?-4:0});s.textContent=sup;}
  if(t1){const s=el('tspan',tt);setA(s,{dy:sub&&sup?6:(sub?-3:(sup?6:0))});s.textContent=t1;}
  const yt=el('text',g);
  setA(yt,{transform:`translate(${p.x0-28},${(p.y0+p.y1)/2}) rotate(-90)`,'font-size':13,'text-anchor':'middle',fill:'#111'});
  yt.textContent='Depth (cmbsf)';
  
  
  const ax=el('g',g);
  
  
  setA(ax,{stroke:'#000','stroke-width':1});
  p.xt.forEach((v,i)=>{const x=xs(v);const l=el('line',ax);setA(l,{x1:x,x2:x,y1:p.y0,y2:p.y0-4});
    const t=text(ax,x,p.y0-6,p.dec?v.toFixed(1):String(v),12.5);t.setAttribute('stroke','none');
    if(!p.xscale&&i<p.xt.length-1){const mx=xs((v+p.xt[i+1])/2);const m=el('line',ax);setA(m,{x1:mx,x2:mx,y1:p.y0,y2:p.y0-2.5});}});
  p.yt.forEach((v,i)=>{const y=ys(v);const l=el('line',ax);setA(l,{x1:p.x0,x2:p.x0-4,y1:y,y2:y});
    const t=text(ax,p.x0-6,y+4.5,String(v),12.5,'end');t.setAttribute('stroke','none');
    if(i<p.yt.length-1){const my=ys(v+2.5);const m=el('line',ax);setA(m,{x1:p.x0,x2:p.x0-2.5,y1:my,y2:my});}});
  const pts=el('g',g);
  
  
  p.series.forEach(([key,arr])=>{
    const st=ST[key];
    const sg=el('g',pts);
    
    
    arr.forEach((item,i)=>{
      if(item===null)return;
      let v,d;
      if(Array.isArray(item)){v=item[0];d=item[1];}else{v=item;d=2*(i+1);}
      const m=marker(sg,st[0],xs(v),ys(d),st[1],st[2],st[3],1.12);
      
      
    });
  });
  const bx=el('rect',g);
  setA(bx,{x:p.x0,y:p.y0,width:p.x1-p.x0,height:p.y1-p.y0,fill:'none',stroke:'#000','stroke-width':1.2});
  
  
  if(p.id==='b'){
    const br=el('rect',g);setA(br,{x:143,y:p.y0-5,width:8,height:10,fill:'#fff'});
    const bl=el('path',g);setA(bl,{d:`M141,${p.y0+4}L146,${p.y0-5}M146,${p.y0+4}L151,${p.y0-5}`,stroke:'#000','stroke-width':1});
    
    
  }
});

// ===================== LEGEND =====================
const lg=el('g',svg);


const colSym=[530,623,703],colTxt=[545,638,718];
legendKeys.forEach((k,i)=>{
  const c=Math.floor(i/15),r=i%15;
  const y=517+r*18.9;
  const e=el('g',lg);
  
  
  const st=ST[k];
  marker(e,st[0],colSym[c],y,st[1],st[2],st[3],1);
  const t=text(e,colTxt[c],y+4.5,legendLabels[i],13,'start');
  t.setAttribute('fill','#111');
});

// watermark
const wm=el('g',svg);


const c1=el('ellipse',wm);setA(c1,{cx:447,cy:768,rx:11,ry:9,fill:'#bdbdbd',opacity:0.8});
const c2=el('ellipse',wm);setA(c2,{cx:459,cy:777,rx:9,ry:7.5,fill:'#a9a9a9',opacity:0.8});
const wt=text(wm,476,780,'公众号 · 海洋科学综合考察船',22,'start');
setA(wt,{fill:'#9a9a9a','fill-opacity':0.75});
</script>
</body></html>
